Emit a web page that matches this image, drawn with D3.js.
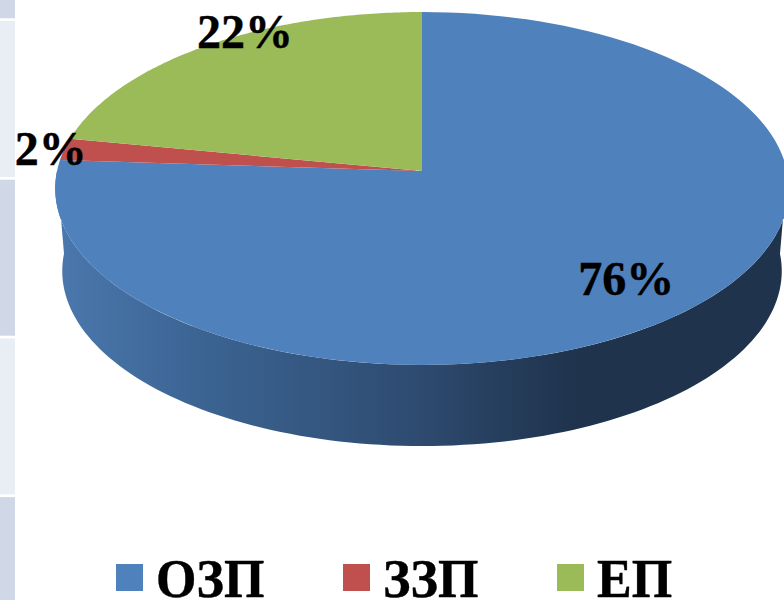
<!DOCTYPE html>
<html lang="en">
<head>
  <meta charset="UTF-8">
  <title>ОЗП, ЗЗП, ЕП</title>
  <script src="https://d3js.org/d3.v7.min.js"></script>
  <style>
    html, body { margin: 0; background: #fff; }
    svg { display: block; }
    text { font-family: "Liberation Serif", serif; font-weight: bold; fill: #000; stroke: #000; stroke-width: 0.4; }
  </style>
</head>
<body>
  <div id="chart"></div>
  <script>
    const categories = ["ОЗП", "ЗЗП", "ЕП"];
    const shares = [76, 2, 22];
    const colours = ["#4f81bd", "#c0504d", "#9bbb59"];

    const width = 784, height = 600;
    const svg = d3.select("#chart").append("svg")
      .attr("width", width).attr("height", height);

    // strip of table cells showing behind the chart on the left
    const rowY = i => 21 + (i - 1) * 158.7;
    svg.selectAll(".cell").data(d3.range(0, 5)).enter().append("rect")
      .attr("class", "cell")
      .attr("x", 0).attr("width", 15)
      .attr("y", i => rowY(i)).attr("height", 156)
      .attr("fill", i => i % 2 ? "#e9edf4" : "#d0d8e8");

    // tilted pie: a circle seen in perspective
    const k = 0.099;
    const face = { cx: 422, cy: 171, rx: 365, ry: 174.7 };
    const base = { cx: 422, cy: 253.7, rx: 358, ry: 173.3 };
    const project = (p, a, f = 1) => {
      const X = f * Math.sin(a), Y = -f * Math.cos(a);
      const w = 1 - k * Y;
      return [p.cx + p.rx * X / w, p.cy + p.ry * Y / w];
    };
    const rim = (p, a0, a1) => d3.range(0, 121).map(i => project(p, a0 + (a1 - a0) * i / 120));
    const line = d3.line();

    const pie = d3.pie().sort(null).value(d => d);
    const slices = pie(shares);

    // side wall
    const grad = svg.append("defs").append("linearGradient")
      .attr("id", "wall").attr("gradientUnits", "userSpaceOnUse")
      .attr("x1", 60).attr("x2", 784).attr("y1", 0).attr("y2", 0);
    [[0, "#4a77ad"], [0.185, "#3c6594"], [0.493, "#2e4b70"], [0.708, "#1f334d"], [1, "#1f334d"]]
      .forEach(s => grad.append("stop").attr("offset", s[0]).attr("stop-color", s[1]));

    const wallPts = rim(face, Math.PI / 2, 3 * Math.PI / 2)
      .concat(rim(base, 3 * Math.PI / 2, Math.PI / 2));
    svg.append("path").attr("d", line(wallPts) + "Z").attr("fill", "url(#wall)");

    // top face
    svg.selectAll(".slice").data(slices).enter().append("path")
      .attr("class", "slice")
      .attr("d", d => line([[face.cx, face.cy]].concat(rim(face, d.startAngle, d.endAngle))) + "Z")
      .attr("fill", (d, i) => colours[i]);

    // percent labels, placed from each slice's middle angle
    const labelFactor = [0.79, 1.05, 1.13];
    const labelNudge = [[-5, 1], [4, 1], [65, 1]];
    svg.selectAll(".pct").data(slices).enter().append("text")
      .attr("class", "pct")
      .attr("text-anchor", "middle")
      .attr("font-size", 48)
      .attr("x", (d, i) => project(face, (d.startAngle + d.endAngle) / 2, labelFactor[i])[0] + labelNudge[i][0])
      .attr("y", (d, i) => project(face, (d.startAngle + d.endAngle) / 2, labelFactor[i])[1] + labelNudge[i][1] + 16)
      .text(d => d.data + "%");

    // legend
    const legendX = [116, 343, 557];
    const legend = svg.selectAll(".key").data(categories).enter().append("g")
      .attr("class", "key")
      .attr("transform", (d, i) => `translate(${legendX[i]},564)`);
    legend.append("rect").attr("width", 27).attr("height", 27)
      .attr("fill", (d, i) => colours[i]);
    legend.append("text")
      .attr("transform", "translate(40,33) scale(1,1.06)")
      .attr("font-size", 52).text(d => d);
  </script>
</body>
</html>
